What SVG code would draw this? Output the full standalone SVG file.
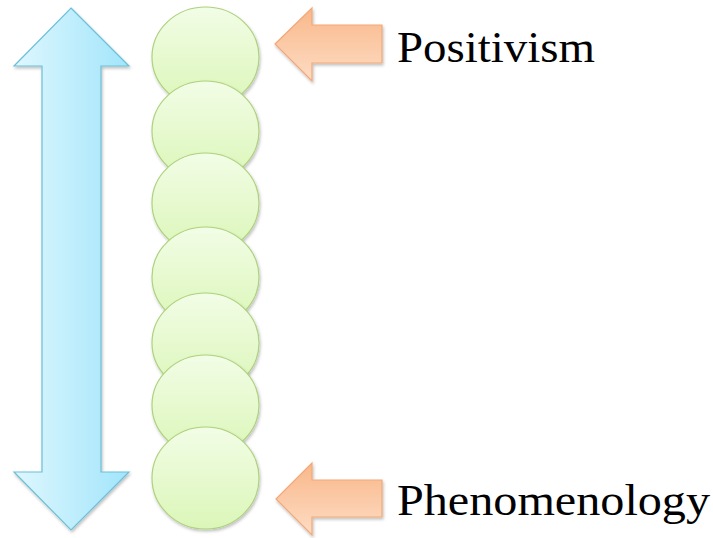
<svg xmlns="http://www.w3.org/2000/svg" width="713" height="538" viewBox="0 0 713 538">
<defs>
<linearGradient id="gBlue" x1="0" y1="0" x2="1" y2="0">
<stop offset="0" stop-color="#def7fe"/>
<stop offset="1" stop-color="#a2e5fb"/>
</linearGradient>
<linearGradient id="gGreen" x1="0" y1="0" x2="0" y2="1">
<stop offset="0" stop-color="#f2fde6"/>
<stop offset="1" stop-color="#dbf6b8"/>
</linearGradient>
<linearGradient id="gOrange" x1="0" y1="0" x2="0" y2="1">
<stop offset="0" stop-color="#f9b88a"/>
<stop offset="1" stop-color="#fddcc4"/>
</linearGradient>
<filter id="sh" x="-20%" y="-20%" width="140%" height="140%">
<feDropShadow dx="1" dy="2" stdDeviation="1.5" flood-color="#000" flood-opacity="0.25"/>
</filter>
</defs>
<style>
.circ{fill:url(#gGreen);stroke:#aed27e;stroke-width:1.2;filter:url(#sh)}
.arr{fill:url(#gOrange);stroke:#f2a877;stroke-width:1.2;filter:url(#sh)}
.lbl{font-family:"Liberation Serif","DejaVu Serif",serif;font-size:44px;fill:#000}
</style>
<g id="double-arrow">
<path d="M71,8 L129,66 L101,66 L101,472 L129,472 L71,530 L14,472 L42,472 L42,66 L14,66 Z" fill="url(#gBlue)" stroke="#6cbfd8" stroke-width="1.2" filter="url(#sh)"/>
</g>
<g id="circles">
<ellipse id="c1" class="circ" cx="205.5" cy="57" rx="53.5" ry="50"/>
<ellipse id="c2" class="circ" cx="205.5" cy="131" rx="53.5" ry="50"/>
<ellipse id="c3" class="circ" cx="205.5" cy="203" rx="53.5" ry="50"/>
<ellipse id="c4" class="circ" cx="205.5" cy="277" rx="53.5" ry="50"/>
<ellipse id="c5" class="circ" cx="205.5" cy="343" rx="53.5" ry="50"/>
<ellipse id="c6" class="circ" cx="205.5" cy="405" rx="53.5" ry="50"/>
<ellipse id="c7" class="circ" cx="205.5" cy="478" rx="53.5" ry="51"/>
</g>
<g id="connectors">
<path id="arrow-top" class="arr" d="M275,44 L312,8 L312,25 L382,25 L382,63 L312,63 L312,81 Z"/>
<path id="arrow-bottom" class="arr" d="M276,499 L312,463 L312,480 L382,480 L382,517 L312,517 L312,535 Z"/>
</g>
<g id="label-positivism">
<text class="lbl" x="397" y="62" textLength="198" lengthAdjust="spacingAndGlyphs">Positivism</text>
</g>
<g id="label-phenomenology">
<text class="lbl" x="397" y="515" textLength="313" lengthAdjust="spacingAndGlyphs">Phenomenology</text>
</g>
</svg>
